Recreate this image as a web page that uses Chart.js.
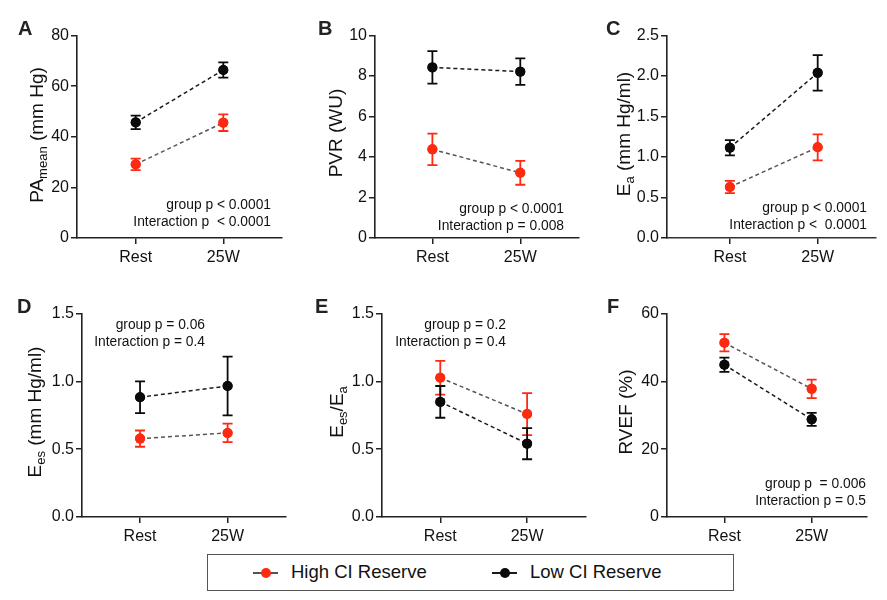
<!DOCTYPE html>
<html>
<head>
<meta charset="utf-8">
<script src="https://cdn.jsdelivr.net/npm/chart.js@4.4.1/dist/chart.umd.min.js"></script>
<style>
  html, body { margin:0; padding:0; background:#fff; }
  body { width:887px; height:600px; position:relative; overflow:hidden; font-family:"Liberation Sans", Arial, sans-serif; color:#111; }
  canvas { position:absolute; }
  .ttl { position:absolute; white-space:nowrap; font-size:19px; line-height:19px; transform:translate(-50%,-50%) rotate(-90deg); color:#111; }
  .ttl sub { font-size:13px; vertical-align:-4px; line-height:0; }
  .let { position:absolute; font-weight:bold; font-size:20px; line-height:20px; color:#222; }
  .ann { position:absolute; font-size:13.8px; line-height:17px; text-align:right; white-space:pre; color:#111; transform:translateX(-100%); }
  .legend { position:absolute; left:207px; top:554px; width:527px; height:37px; border:1.5px solid #555; box-sizing:border-box; }
  .lg { position:absolute; font-size:18.5px; line-height:20px; top:7px; color:#111; }
  .mk { position:absolute; height:1.5px; top:17px; }
  .dot { position:absolute; width:10px; height:10px; border-radius:50%; top:12.5px; }
</style>
</head>
<body>
<script>
// ---------- DATA ----------
const categories = ["Rest", "25W"];
const seriesNames = ["High CI Reserve", "Low CI Reserve"];

// A: PA mean (mm Hg)
const highA = [29.1, 45.6],  highErrA = [2.3, 3.3];
const lowA  = [45.7, 66.4],  lowErrA  = [2.7, 3.0];
// B: PVR (WU)
const highB = [4.38, 3.22],  highErrB = [0.78, 0.59];
const lowB  = [8.43, 8.22],  lowErrB  = [0.80, 0.65];
// C: Ea (mm Hg/ml)
const highC = [0.63, 1.12],  highErrC = [0.075, 0.16];
const lowC  = [1.115, 2.04], lowErrC  = [0.095, 0.22];
// D: Ees (mm Hg/ml)
const highD = [0.578, 0.62], highErrD = [0.06, 0.068];
const lowD  = [0.883, 0.966],lowErrD  = [0.117, 0.217];
// E: Ees/Ea
const highE = [1.027, 0.759],highErrE = [0.125, 0.155];
const lowE  = [0.849, 0.541],lowErrE  = [0.117, 0.115];
// F: RVEF (%)
const highF = [51.4, 37.8],  highErrF = [2.55, 2.75];
const lowF  = [44.9, 28.8],  lowErrF  = [2.1, 1.9];

// y-axis tick settings per panel
const yMaxes = [80, 10, 2.5, 1.5, 1.5, 60];
const ySteps = [20, 2, 0.5, 0.5, 0.5, 20];
const yDecimals = [0, 0, 1, 1, 1, 0];

// ---------- STYLE / LAYOUT ----------
const RED = "#fd2a12", BLACK = "#0a0a0a";
const FONT = "'Liberation Sans', Arial, sans-serif";

const panels = [
  { id:"A", high:highA, hErr:highErrA, low:lowA, lErr:lowErrA, L:77,  R:283, T:34,  B:238, xmin:-0.67, xmax:1.67,
    title:'PA<sub>mean</sub> (mm Hg)', tx:36, ty:135, lx:18, ly:18,
    ann:["group p < 0.0001","Interaction p  < 0.0001"], ax:271, ay:196 },
  { id:"B", high:highB, hErr:highErrB, low:lowB, lErr:lowErrB, L:375, R:580, T:34,  B:238, xmin:-0.653, xmax:1.668,
    title:'PVR (WU)', tx:335, ty:133, lx:318, ly:18,
    ann:["group p < 0.0001","Interaction p = 0.008"], ax:564, ay:200 },
  { id:"C", high:highC, hErr:highErrC, low:lowC, lErr:lowErrC, L:667, R:877, T:34,  B:238, xmin:-0.716, xmax:1.664,
    title:'E<sub>a</sub> (mm Hg/ml)', tx:623, ty:134, lx:606, ly:18, dashedX:true,
    ann:["group p < 0.0001","Interaction p <  0.0001"], ax:867, ay:199 },
  { id:"D", high:highD, hErr:highErrD, low:lowD, lErr:lowErrD, L:82,  R:287, T:312, B:517, xmin:-0.663, xmax:1.667,
    title:'E<sub>es</sub> (mm Hg/ml)', tx:34, ty:412, lx:17, ly:296,
    ann:["group p = 0.06","Interaction p = 0.4"], ax:205, ay:316 },
  { id:"E", high:highE, hErr:highErrE, low:lowE, lErr:lowErrE, L:382, R:587, T:312, B:517, xmin:-0.671, xmax:1.678,
    title:'E<sub>es</sub>/E<sub>a</sub>', tx:336, ty:412, lx:315, ly:296,
    ann:["group p = 0.2","Interaction p = 0.4"], ax:506, ay:316 },
  { id:"F", high:highF, hErr:highErrF, low:lowF, lErr:lowErrF, L:667, R:868, T:312, B:517, xmin:-0.658, xmax:1.634,
    title:'RVEF (%)', tx:625, ty:412, lx:607, ly:296,
    ann:["group p  = 0.006","Interaction p = 0.5"], ax:866, ay:475 }
];

const errorBarPlugin = {
  id: "errbars",
  afterDatasetsDraw(chart) {
    const ctx = chart.ctx, ys = chart.scales.y;
    chart.data.datasets.forEach((ds, di) => {
      const meta = chart.getDatasetMeta(di);
      ctx.save();
      ctx.strokeStyle = ds.pointBackgroundColor;
      ctx.lineWidth = 1.8;
      meta.data.forEach((pt, i) => {
        const m = ds.data[i].y, e = ds.errors[i];
        const y1 = ys.getPixelForValue(m + e), y2 = ys.getPixelForValue(m - e);
        const x = pt.x;
        ctx.beginPath();
        ctx.moveTo(x, y1); ctx.lineTo(x, y2);
        ctx.moveTo(x - 5, y1); ctx.lineTo(x + 5, y1);
        ctx.moveTo(x - 5, y2); ctx.lineTo(x + 5, y2);
        ctx.stroke();
      });
      ctx.restore();
      meta.data.forEach(pt => pt.draw(ctx, chart.chartArea));
    });
  }
};

const PADL = 48, PADT = 10, PADR = 4, PADB = 36;

panels.forEach((p, idx) => {
  const cv = document.createElement("canvas");
  const w = (p.R - p.L) + PADL + PADR, h = (p.B - p.T) + PADT + PADB;
  cv.style.left = (p.L - PADL) + "px"; cv.style.top = (p.T - PADT) + "px";
  cv.style.width = w + "px"; cv.style.height = h + "px";
  cv.width = w; cv.height = h;
  document.body.appendChild(cv);

  const mk = (vals) => vals.map((v, i) => ({ x: i, y: v }));
  const dec = yDecimals[idx];

  new Chart(cv, {
    type: "scatter",
    data: {
      datasets: [
        { label: seriesNames[0], data: mk(p.high), errors: p.hErr, showLine: true,
          borderColor: "#555", borderWidth: 1.5, borderDash: [4, 3],
          pointBackgroundColor: RED, pointBorderWidth: 0, pointRadius: 5 },
        { label: seriesNames[1], data: mk(p.low), errors: p.lErr, showLine: true,
          borderColor: "#1a1a1a", borderWidth: 1.5, borderDash: [4, 3],
          pointBackgroundColor: BLACK, pointBorderWidth: 0, pointRadius: 5 }
      ]
    },
    options: {
      responsive: false, animation: false, devicePixelRatio: 1,
      layout: { padding: { left: 0, top: PADT, right: PADR, bottom: 0 } },
      plugins: { legend: { display: false }, tooltip: { enabled: false } },
      scales: {
        x: {
          type: "linear", min: p.xmin, max: p.xmax,
          afterBuildTicks: (s) => { s.ticks = categories.map((c, i) => ({ value: i })); },
          afterFit: (s) => { s.height = PADB; },
          ticks: { callback: (v) => categories[v], color: "#111", font: { family: FONT, size: 16 }, padding: 4, maxRotation: 0 },
          grid: { drawOnChartArea: false, drawTicks: true, tickLength: 6, color: "#222", lineWidth: 1.5 },
          border: { display: true, color: p.dashedX ? "#333" : "#222", width: 1.6, dash: p.dashedX ? [2, 1] : [] }
        },
        y: {
          min: 0, max: yMaxes[idx],
          afterFit: (s) => { s.width = PADL; },
          ticks: { stepSize: ySteps[idx], callback: (v) => Number(v).toFixed(dec), color: "#111", font: { family: FONT, size: 16 }, padding: 2 },
          grid: { drawOnChartArea: false, drawTicks: true, tickLength: 6, color: "#222", lineWidth: 1.5 },
          border: { display: true, color: "#222", width: 1.6 }
        }
      }
    },
    plugins: [errorBarPlugin]
  });

  const t = document.createElement("div");
  t.className = "ttl"; t.innerHTML = p.title;
  t.style.left = p.tx + "px"; t.style.top = p.ty + "px";
  document.body.appendChild(t);

  const l = document.createElement("div");
  l.className = "let"; l.textContent = p.id;
  l.style.left = p.lx + "px"; l.style.top = p.ly + "px";
  document.body.appendChild(l);

  const a = document.createElement("div");
  a.className = "ann"; a.textContent = p.ann.join("\n");
  a.style.left = p.ax + "px"; a.style.top = p.ay + "px";
  document.body.appendChild(a);
});

// legend
const lg = document.createElement("div");
lg.className = "legend";
const items = [
  { name: seriesNames[0], color: RED, line: "#555", x0: 45 },
  { name: seriesNames[1], color: BLACK, line: "#1a1a1a", x0: 284 }
];
items.forEach(it => {
  const ln = document.createElement("div");
  ln.className = "mk"; ln.style.left = it.x0 + "px"; ln.style.width = "25px"; ln.style.background = it.line;
  const d = document.createElement("div");
  d.className = "dot"; d.style.left = (it.x0 + 8) + "px"; d.style.background = it.color;
  const tx = document.createElement("div");
  tx.className = "lg"; tx.style.left = (it.x0 + 38) + "px"; tx.textContent = it.name;
  lg.appendChild(ln); lg.appendChild(d); lg.appendChild(tx);
});
document.body.appendChild(lg);
</script>
</body>
</html>
